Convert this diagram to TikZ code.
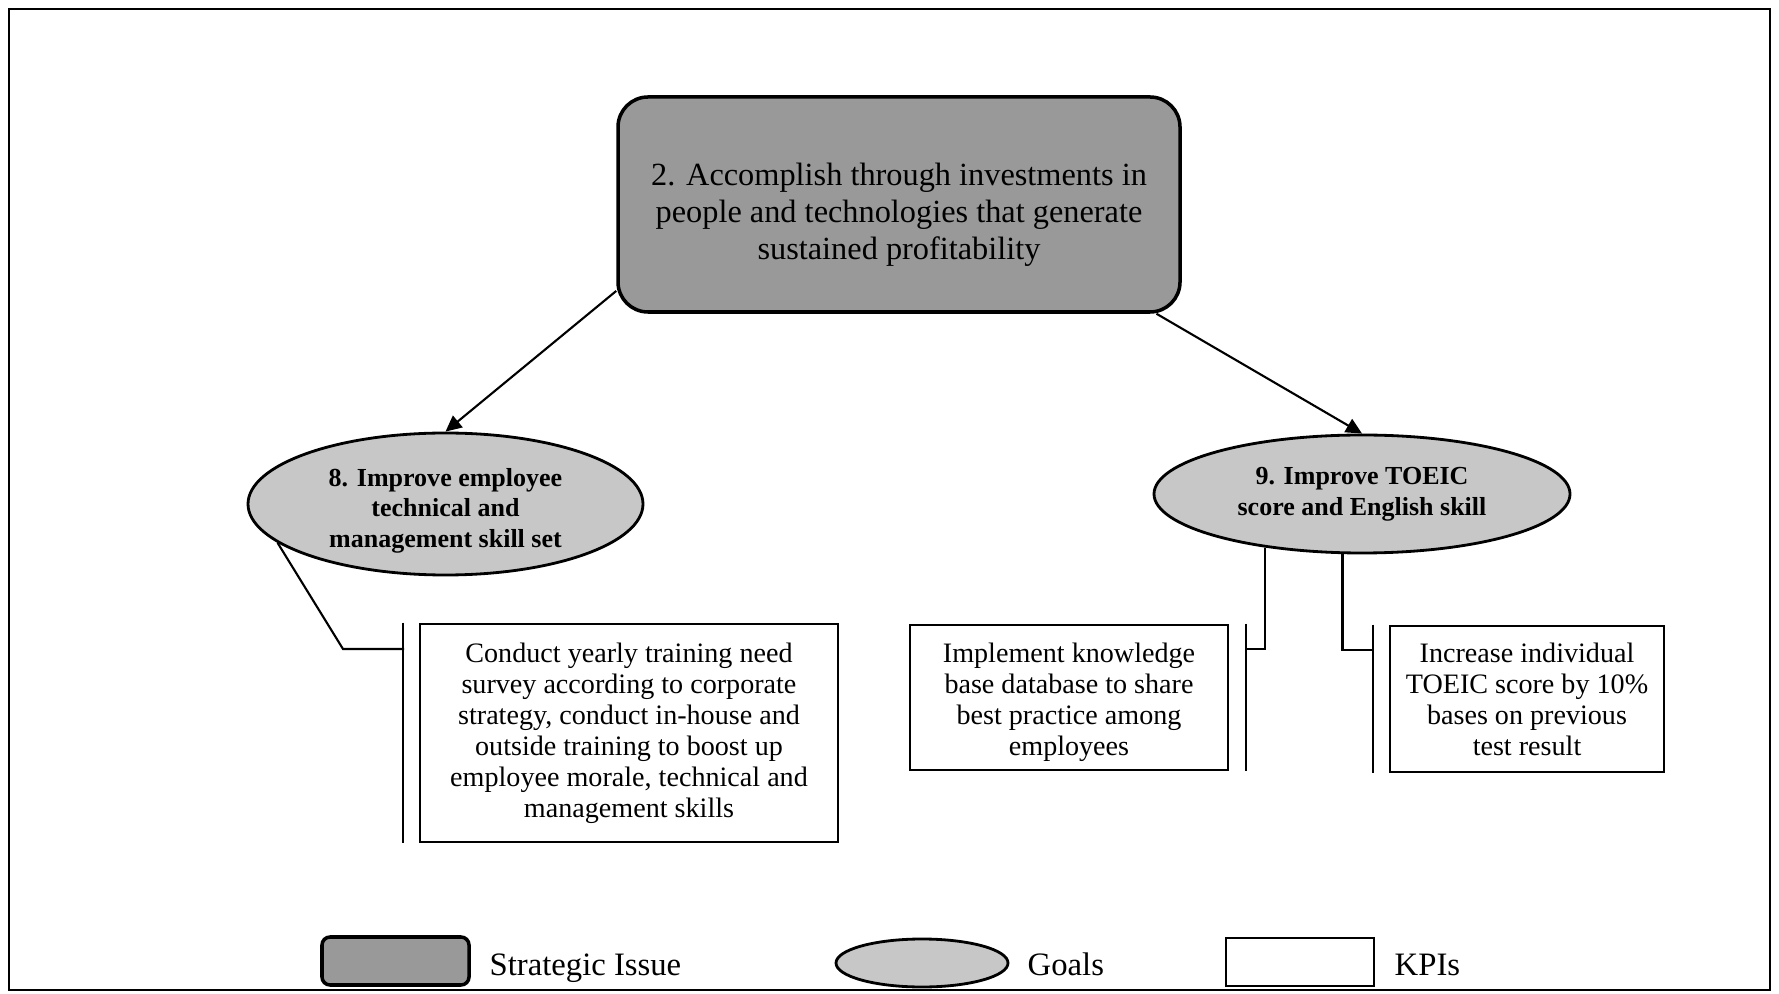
\documentclass[tikz,border=0pt]{standalone}
\usepackage{fontspec}
\setmainfont{Liberation Serif}
\usepackage{xcolor}
\definecolor{issueGray}{gray}{0.60}
\definecolor{goalGray}{gray}{0.78}
\usepackage{tikz}
\usetikzlibrary{shapes.geometric,arrows.meta}

\begin{document}
\begin{tikzpicture}[>={Triangle[length=0.16cm,width=0.15cm]},
  issuebox/.style={draw, line width=1pt, rounded corners=0.3cm, fill=issueGray, inner sep=0pt, align=center},
  goalell/.style={ellipse, draw, line width=0.8pt, fill=goalGray, inner sep=0pt, align=center,
                  font=\fontsize{7.4}{8.7}\selectfont\bfseries},
  kpibox/.style={draw, line width=0.8pt, fill=white, inner sep=0pt, align=center,
                 font=\fontsize{8}{8.8}\selectfont},
  keytext/.style={anchor=base west, inner sep=0pt, font=\fontsize{9.3}{11}\selectfont},
  link/.style={line width=0.6pt}]
  \useasboundingbox (0,0) rectangle (17.79,9.93);

  % ---------------- the frame ----------------
  \draw[line width=0.8pt] (0.09,0.03) rectangle (17.70,9.84);

  % ---------------- the strategic issue ----------------
  \node[issuebox, minimum width=5.62cm, minimum height=2.15cm, font=\fontsize{9.2}{10.6}\selectfont]
    (issue) at (8.99,7.885)
    {\rule{0pt}{12.2pt}2. Accomplish through investments in\\ people and technologies that generate\\ sustained profitability};

  % ---------------- the goals ----------------
  \node[goalell, minimum width=3.95cm, minimum height=1.42cm] (goalEight) at (4.455,4.89)
    {\rule{0pt}{9pt}8. Improve employee\\ technical and\\ management skill set};
  \node[goalell, minimum width=4.16cm, minimum height=1.18cm] (goalNine) at (13.62,4.99)
    {9. Improve TOEIC\\ score and English skill};
  \draw[->, link] (issue.197) -- (goalEight.north);
  \draw[->, link] (issue.337) -- (goalNine.north);

  % ---------------- the KPIs ----------------
  \node[kpibox, minimum width=4.18cm, minimum height=2.18cm] (kpiTrain) at (6.29,2.60)
    {Conduct yearly training need\\ survey according to corporate\\ strategy, conduct in-house and\\
     outside training to boost up\\ employee morale, technical and\\ management skills};
  \node[kpibox, minimum width=3.18cm, minimum height=1.45cm] (kpiBase) at (10.69,2.955)
    {\rule{0pt}{8.1pt}Implement knowledge\\ base database to share\\ best practice among\\ employees};
  \node[kpibox, minimum width=2.74cm, minimum height=1.46cm] (kpiToeic) at (15.27,2.94)
    {Increase individual\\ TOEIC score by 10\%\\ bases on previous\\ test result};

  % ---------------- brackets and links to the goals ----------------
  \draw[link] ([xshift=-0.16cm]kpiTrain.north west) -- ([xshift=-0.16cm]kpiTrain.south west);
  \draw[link] ([xshift=0.17cm]kpiBase.north east) -- ([xshift=0.17cm]kpiBase.south east);
  \draw[link] ([xshift=-0.16cm]kpiToeic.north west) -- ([xshift=-0.16cm]kpiToeic.south west);
  \coordinate (trainBend) at (3.43,3.44);
  \coordinate (trainJoin) at (4.04,3.44);
  \coordinate (baseJoin)  at (12.45,3.44);
  \coordinate (toeicJoin) at (13.74,3.43);
  \draw[link] (goalEight.193) -- (trainBend) -- (trainJoin);
  \draw[link] (goalNine.209) |- (baseJoin);
  \draw[link] (goalNine.252) |- (toeicJoin);

  % ---------------- the key ----------------
  \node[issuebox, rounded corners=0.08cm, minimum width=1.47cm, minimum height=0.48cm] (keyIssue) at (3.955,0.32) {};
  \node[keytext] (keyIssueText) at (4.89,0.18) {Strategic Issue};
  \node[goalell, minimum width=1.72cm, minimum height=0.48cm] (keyGoal) at (9.22,0.30) {};
  \node[keytext] (keyGoalText) at (10.27,0.18) {Goals};
  \node[kpibox, minimum width=1.48cm, minimum height=0.48cm] (keyKpi) at (13.00,0.31) {};
  \node[keytext] (keyKpiText) at (13.94,0.18) {KPIs};
\end{tikzpicture}
\end{document}
